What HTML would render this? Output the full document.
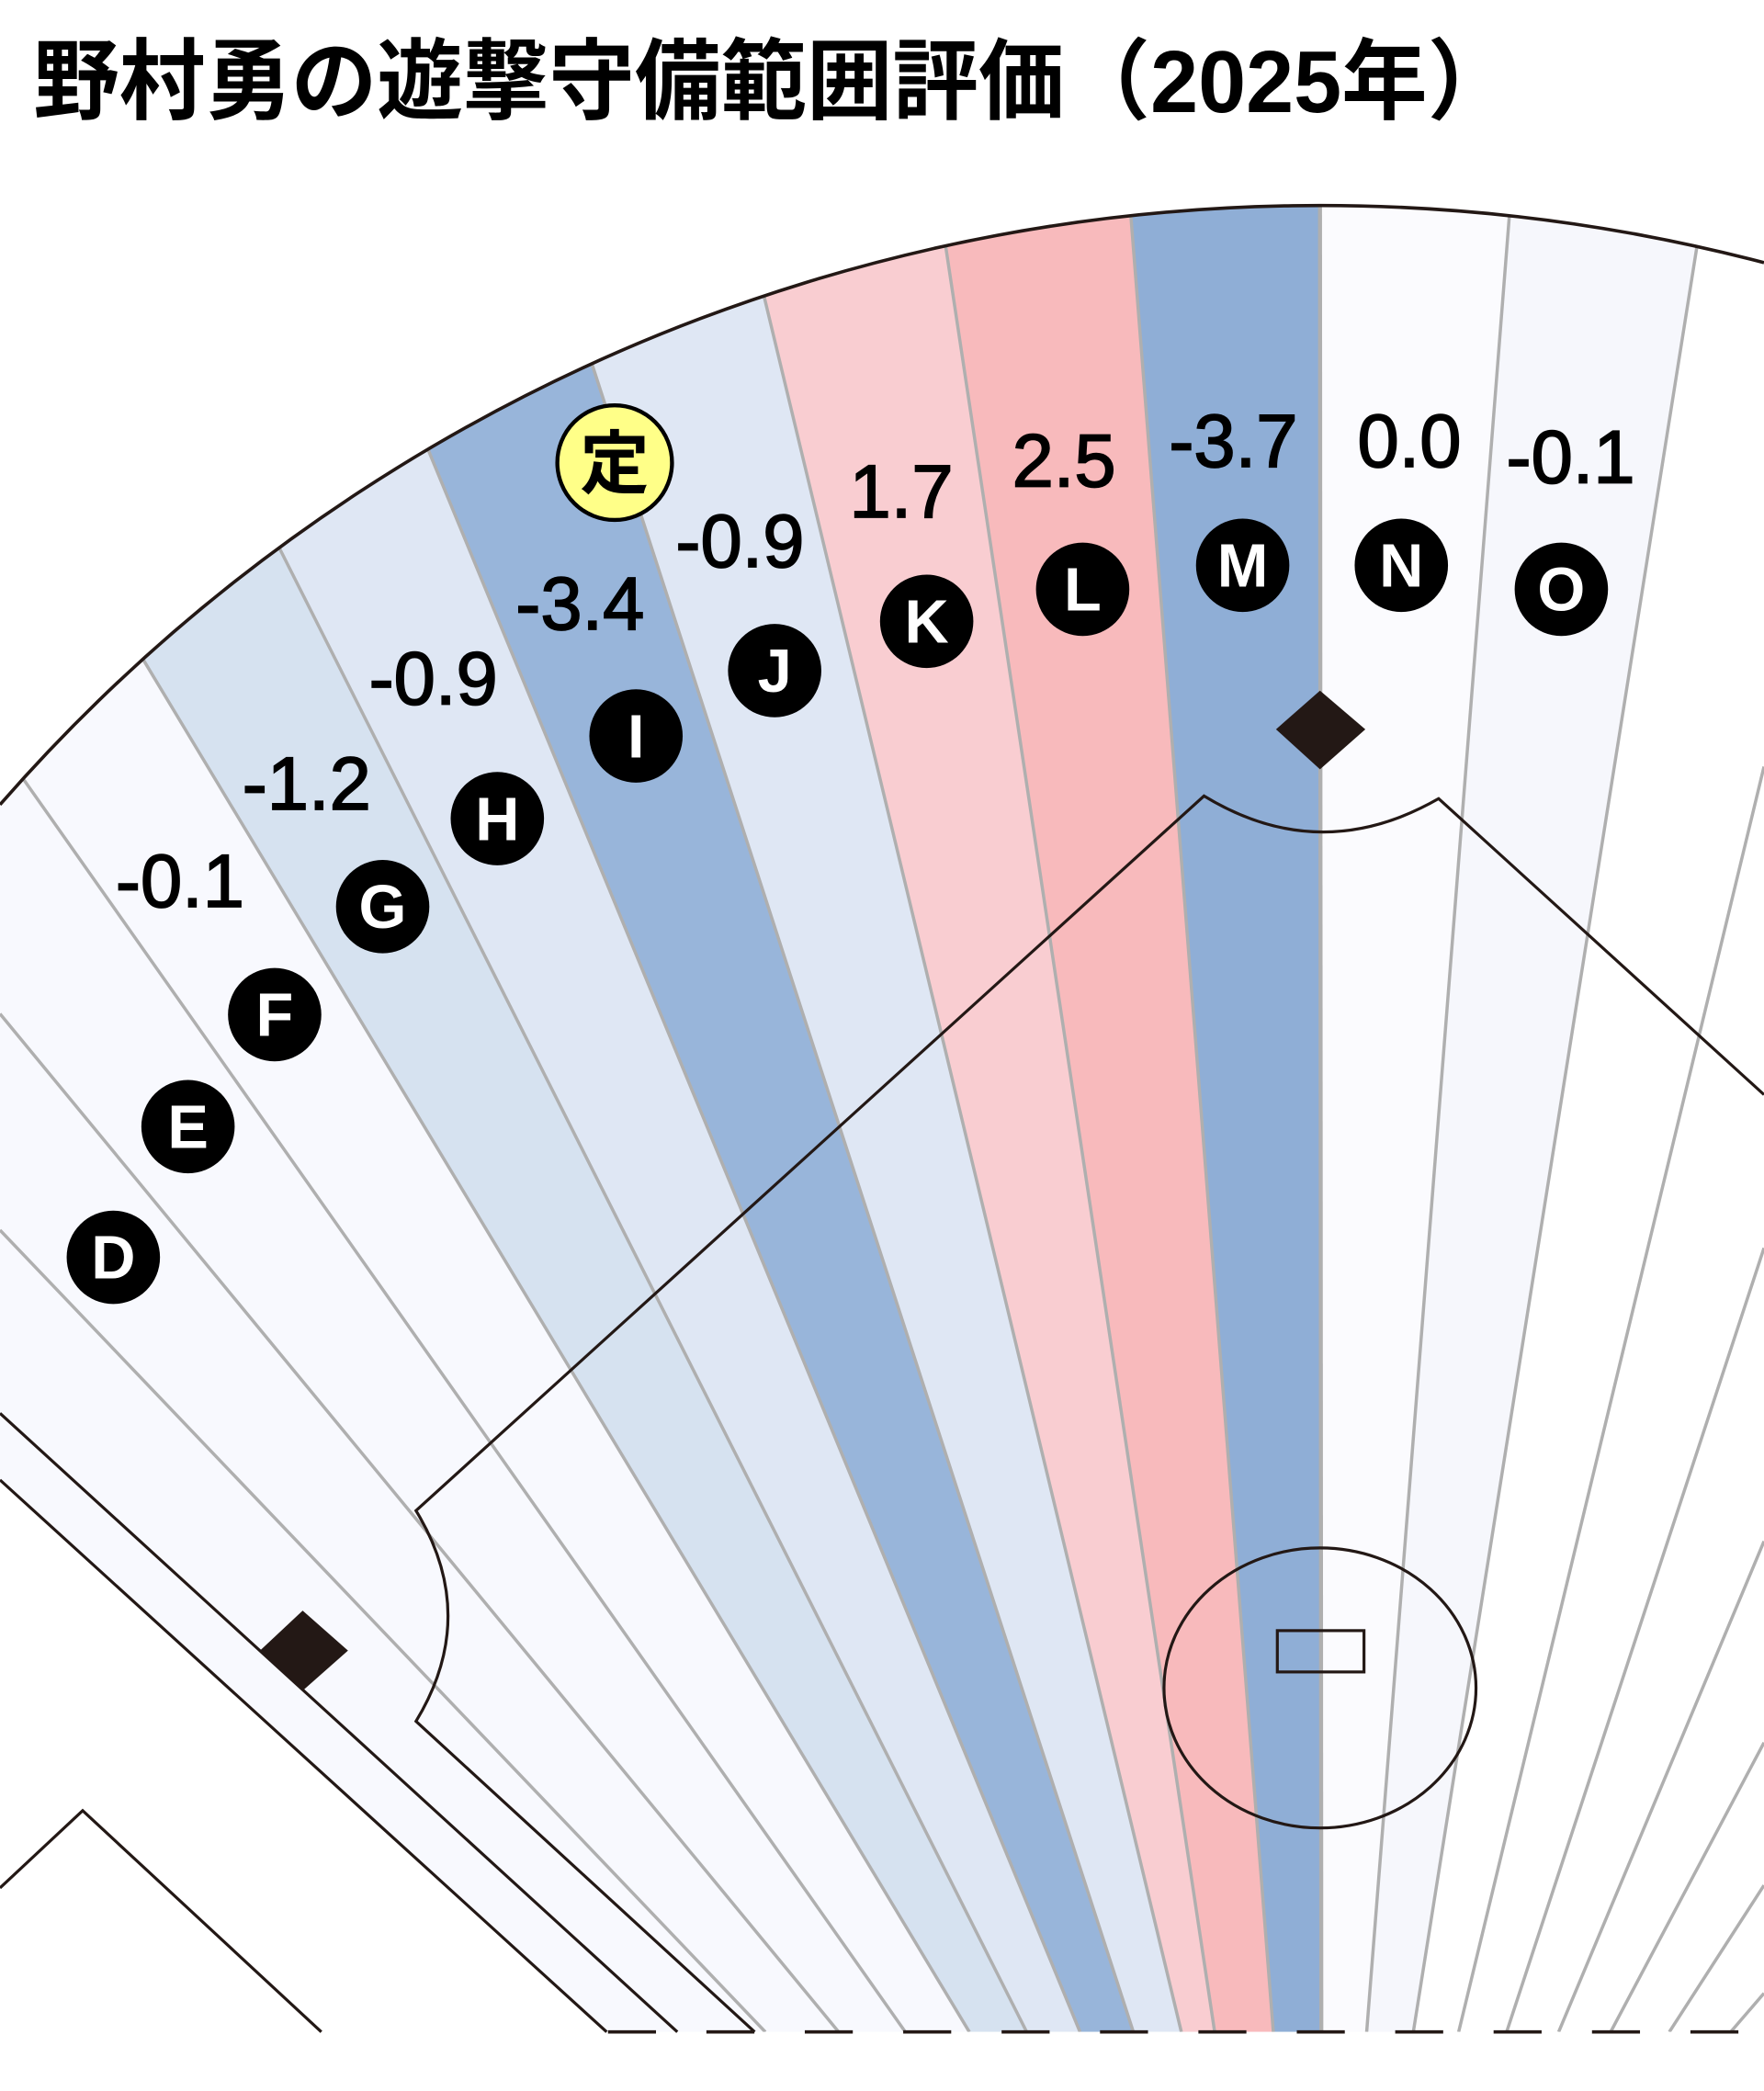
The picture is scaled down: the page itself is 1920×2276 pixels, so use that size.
<!DOCTYPE html>
<html><head><meta charset="utf-8"><style>
html,body{margin:0;padding:0;background:#fff;width:1920px;height:2276px;overflow:hidden;}
svg{display:block;}
text{font-family:"Liberation Sans","Noto Sans CJK JP",sans-serif;}
</style></head><body>
<svg width="1920" height="2276" viewBox="0 0 1323 1568.3" preserveAspectRatio="none" xmlns="http://www.w3.org/2000/svg">
<defs>
<clipPath id="circ"><rect x="0" y="0" width="1323" height="1524"/></clipPath>
<clipPath id="fan"><path d="M0,1524 L0,603.5 A1315,1315 0 0 1 1323,197 L1323,1524 Z"/></clipPath>
</defs>
<rect width="1323" height="1568" fill="#fff"/>
<g clip-path="url(#circ)">
<g clip-path="url(#fan)">
<polygon points="0,700 0,922.6 574,1524 456,1524 0,1110" fill="#F8F9FE"/>
<polygon points="0,922.6 0,760.4 629,1524 574,1524" fill="#F8F9FE"/>
<polygon points="0,585 18,585 679,1524 629,1524 0,760.4" fill="#F8F9FE"/>
<polygon points="18,585 107,494 727,1524 679,1524" fill="#F8F9FE"/>
<polygon points="107,494 208,408 770,1524 727,1524" fill="#D6E2F0"/>
<polygon points="208,408 321,337 810,1524 770,1524" fill="#DFE7F4"/>
<polygon points="321,337 443,270 850,1524 810,1524" fill="#98B5DA"/>
<polygon points="443,270 573,222 886,1524 850,1524" fill="#DFE7F4"/>
<polygon points="573,222 709,183 911,1524 886,1524" fill="#F9CDD1"/>
<polygon points="709,183 848,160 955,1524 911,1524" fill="#F8BABC"/>
<polygon points="848,160 990,150 991,1524 955,1524" fill="#8FAED6"/>
<polygon points="990,150 1132,162 1025,1524 991,1524" fill="#FBFBFE"/>
<polygon points="1132,162 1273,183 1060,1524 1025,1524" fill="#F6F7FC"/>
<g stroke="#AFAFAF" stroke-width="2.4" fill="none">
<line x1="0" y1="922.6" x2="574" y2="1524"/>
<line x1="0" y1="760.4" x2="629" y2="1524"/>
<line x1="18" y1="585" x2="679" y2="1524"/>
<line x1="107" y1="494" x2="727" y2="1524"/>
<line x1="208" y1="408" x2="770" y2="1524"/>
<line x1="321" y1="337" x2="810" y2="1524"/>
<line x1="443" y1="270" x2="850" y2="1524"/>
<line x1="573" y1="222" x2="886" y2="1524"/>
<line x1="709" y1="183" x2="911" y2="1524"/>
<line x1="848" y1="160" x2="955" y2="1524"/>
<line x1="990" y1="150" x2="991" y2="1524" stroke-width="3"/>
<line x1="1132" y1="162" x2="1025" y2="1524"/>
<line x1="1273" y1="183" x2="1060" y2="1524"/>
<line x1="1323" y1="575" x2="1094" y2="1524"/>
<line x1="1323" y1="936" x2="1130" y2="1524"/>
<line x1="1323" y1="1156" x2="1169" y2="1524"/>
<line x1="1323" y1="1307" x2="1208" y2="1524"/>
<line x1="1323" y1="1414" x2="1252" y2="1524"/>
<line x1="1323" y1="1495" x2="1298" y2="1524"/>
</g>
</g>
</g>
<polygon points="0,1110 455,1524 0,1524" fill="#fff"/>
<path d="M0,603.5 A1315,1315 0 0 1 1323,197" fill="none" stroke="#231815" stroke-width="2.5"/>
<g stroke="#231815" stroke-width="2.2" fill="none">
<path d="M566,1524 L312,1291 Q360,1212 312,1133 L903,597 Q990,650 1079,599 L1323,821"/>
<line x1="0" y1="1060" x2="508" y2="1524"/>
<line x1="0" y1="1110" x2="455" y2="1524"/>
<polyline points="0,1416 62,1358 241,1524"/>
<ellipse cx="990" cy="1266" rx="117" ry="105"/>
<rect x="958" y="1223" width="65" height="31"/>
</g>
<line x1="456" y1="1524" x2="1323" y2="1524" stroke="#231815" stroke-width="2.5" stroke-dasharray="36 37.8"/>
<polygon points="957,547 990,518 1024,547 990,577" fill="#231815"/>
<polygon points="195,1238 227,1208 261,1238 227,1268" fill="#231815"/>
<g fill="#000">
<circle cx="85" cy="943" r="35"/><circle cx="141" cy="845" r="35"/><circle cx="206" cy="761" r="35"/>
<circle cx="287" cy="680" r="35"/><circle cx="373" cy="614" r="35"/><circle cx="477" cy="552" r="35"/>
<circle cx="581" cy="503" r="35"/><circle cx="695" cy="466" r="35"/><circle cx="812" cy="442" r="35"/>
<circle cx="932" cy="424" r="35"/><circle cx="1051" cy="424" r="35"/><circle cx="1171" cy="442" r="35"/>
</g>
<g fill="#fff" font-size="46" font-weight="bold" text-anchor="middle">
<text x="85" y="959">D</text><text x="141" y="861">E</text><text x="206" y="777">F</text>
<text x="287" y="696">G</text><text x="373" y="630">H</text><text x="477" y="568">I</text>
<text x="581" y="519">J</text><text x="695" y="482">K</text><text x="812" y="458">L</text>
<text x="932" y="440">M</text><text x="1051" y="440">N</text><text x="1171" y="458">O</text>
</g>
<circle cx="461" cy="347" r="43" fill="#FFFF88" stroke="#000" stroke-width="3"/>
<text x="461" y="366" font-size="52" font-weight="bold" text-anchor="middle" fill="#000">定</text>
<g fill="#000" font-size="56" text-anchor="middle" stroke="#000" stroke-width="1.2">
<text x="135" y="680">-0.1</text><text x="230" y="607">-1.2</text><text x="325" y="528">-0.9</text>
<text x="435" y="472">-3.4</text><text x="555" y="425">-0.9</text><text x="676" y="388">1.7</text>
<text x="798" y="365">2.5</text><text x="925" y="350">-3.7</text><text x="1057" y="350">0.0</text>
<text x="1178" y="362">-0.1</text>
</g>
<text x="25" y="84" font-size="66" font-weight="bold" fill="#000" textLength="1110" lengthAdjust="spacingAndGlyphs">野村勇の遊撃守備範囲評価（2025年）</text>
</svg>
</body></html>
